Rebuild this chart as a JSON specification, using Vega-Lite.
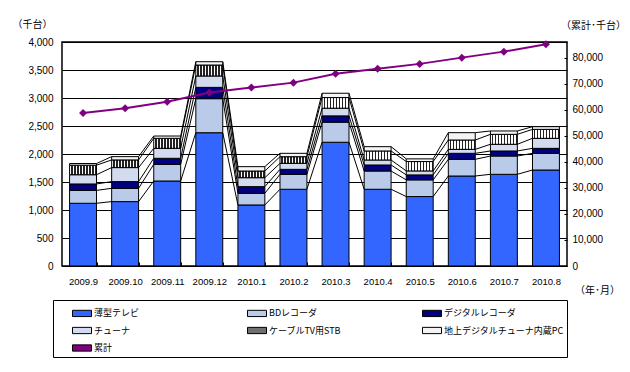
{
  "$schema": "https://vega.github.io/schema/vega-lite/v6.json",
  "width": 505,
  "height": 224,
  "autosize": {"type": "none"},
  "padding": {"left": 62, "top": 42, "right": 63, "bottom": 106},
  "background": "white",
  "config": {
    "font": "Noto Sans CJK JP",
    "view": {"stroke": "black", "strokeWidth": 1.5},
    "axis": {
      "labelFont": "Liberation Sans",
      "labelFontSize": 10,
      "labelColor": "black",
      "titleFont": "Noto Sans CJK JP",
      "titleFontSize": 10,
      "titleFontWeight": "normal",
      "titleColor": "black",
      "domain": false
    }
  },
  "datasets": {
    "bars": [
      {"month": "2009.9", "series": "薄型テレビ", "value": 1120},
      {"month": "2009.9", "series": "BDレコーダ", "value": 230},
      {"month": "2009.9", "series": "デジタルレコーダ", "value": 115},
      {"month": "2009.9", "series": "チューナ", "value": 165},
      {"month": "2009.9", "series": "ケーブルTV用STB", "value": 170},
      {"month": "2009.9", "series": "地上デジタルチューナ内蔵PC", "value": 30},
      {"month": "2009.10", "series": "薄型テレビ", "value": 1150},
      {"month": "2009.10", "series": "BDレコーダ", "value": 237},
      {"month": "2009.10", "series": "デジタルレコーダ", "value": 120},
      {"month": "2009.10", "series": "チューナ", "value": 250},
      {"month": "2009.10", "series": "ケーブルTV用STB", "value": 137},
      {"month": "2009.10", "series": "地上デジタルチューナ内蔵PC", "value": 59},
      {"month": "2009.11", "series": "薄型テレビ", "value": 1518},
      {"month": "2009.11", "series": "BDレコーダ", "value": 297},
      {"month": "2009.11", "series": "デジタルレコーダ", "value": 108},
      {"month": "2009.11", "series": "チューナ", "value": 178},
      {"month": "2009.11", "series": "ケーブルTV用STB", "value": 179},
      {"month": "2009.11", "series": "地上デジタルチューナ内蔵PC", "value": 41},
      {"month": "2009.12", "series": "薄型テレビ", "value": 2380},
      {"month": "2009.12", "series": "BDレコーダ", "value": 608},
      {"month": "2009.12", "series": "デジタルレコーダ", "value": 202},
      {"month": "2009.12", "series": "チューナ", "value": 203},
      {"month": "2009.12", "series": "ケーブルTV用STB", "value": 196},
      {"month": "2009.12", "series": "地上デジタルチューナ内蔵PC", "value": 59},
      {"month": "2010.1", "series": "薄型テレビ", "value": 1090},
      {"month": "2010.1", "series": "BDレコーダ", "value": 208},
      {"month": "2010.1", "series": "デジタルレコーダ", "value": 119},
      {"month": "2010.1", "series": "チューナ", "value": 160},
      {"month": "2010.1", "series": "ケーブルTV用STB", "value": 119},
      {"month": "2010.1", "series": "地上デジタルチューナ内蔵PC", "value": 78},
      {"month": "2010.2", "series": "薄型テレビ", "value": 1370},
      {"month": "2010.2", "series": "BDレコーダ", "value": 267},
      {"month": "2010.2", "series": "デジタルレコーダ", "value": 89},
      {"month": "2010.2", "series": "チューナ", "value": 107},
      {"month": "2010.2", "series": "ケーブルTV用STB", "value": 119},
      {"month": "2010.2", "series": "地上デジタルチューナ内蔵PC", "value": 60},
      {"month": "2010.3", "series": "薄型テレビ", "value": 2210},
      {"month": "2010.3", "series": "BDレコーダ", "value": 358},
      {"month": "2010.3", "series": "デジタルレコーダ", "value": 113},
      {"month": "2010.3", "series": "チューナ", "value": 137},
      {"month": "2010.3", "series": "ケーブルTV用STB", "value": 190},
      {"month": "2010.3", "series": "地上デジタルチューナ内蔵PC", "value": 77},
      {"month": "2010.4", "series": "薄型テレビ", "value": 1370},
      {"month": "2010.4", "series": "BDレコーダ", "value": 326},
      {"month": "2010.4", "series": "デジタルレコーダ", "value": 108},
      {"month": "2010.4", "series": "チューナ", "value": 89},
      {"month": "2010.4", "series": "ケーブルTV用STB", "value": 161},
      {"month": "2010.4", "series": "地上デジタルチューナ内蔵PC", "value": 77},
      {"month": "2010.5", "series": "薄型テレビ", "value": 1240},
      {"month": "2010.5", "series": "BDレコーダ", "value": 298},
      {"month": "2010.5", "series": "デジタルレコーダ", "value": 89},
      {"month": "2010.5", "series": "チューナ", "value": 71},
      {"month": "2010.5", "series": "ケーブルTV用STB", "value": 167},
      {"month": "2010.5", "series": "地上デジタルチューナ内蔵PC", "value": 48},
      {"month": "2010.6", "series": "薄型テレビ", "value": 1607},
      {"month": "2010.6", "series": "BDレコーダ", "value": 298},
      {"month": "2010.6", "series": "デジタルレコーダ", "value": 107},
      {"month": "2010.6", "series": "チューナ", "value": 71},
      {"month": "2010.6", "series": "ケーブルTV用STB", "value": 167},
      {"month": "2010.6", "series": "地上デジタルチューナ内蔵PC", "value": 131},
      {"month": "2010.7", "series": "薄型テレビ", "value": 1637},
      {"month": "2010.7", "series": "BDレコーダ", "value": 327},
      {"month": "2010.7", "series": "デジタルレコーダ", "value": 90},
      {"month": "2010.7", "series": "チューナ", "value": 119},
      {"month": "2010.7", "series": "ケーブルTV用STB", "value": 178},
      {"month": "2010.7", "series": "地上デジタルチューナ内蔵PC", "value": 60},
      {"month": "2010.8", "series": "薄型テレビ", "value": 1714},
      {"month": "2010.8", "series": "BDレコーダ", "value": 298},
      {"month": "2010.8", "series": "デジタルレコーダ", "value": 89},
      {"month": "2010.8", "series": "チューナ", "value": 179},
      {"month": "2010.8", "series": "ケーブルTV用STB", "value": 160},
      {"month": "2010.8", "series": "地上デジタルチューナ内蔵PC", "value": 48}
    ],
    "cum": [
      {"month": "2009.9", "series": "累計", "total": 58700},
      {"month": "2009.10", "series": "累計", "total": 60600},
      {"month": "2009.11", "series": "累計", "total": 63100},
      {"month": "2009.12", "series": "累計", "total": 66600},
      {"month": "2010.1", "series": "累計", "total": 68500},
      {"month": "2010.2", "series": "累計", "total": 70400},
      {"month": "2010.3", "series": "累計", "total": 73800},
      {"month": "2010.4", "series": "累計", "total": 75700},
      {"month": "2010.5", "series": "累計", "total": 77600},
      {"month": "2010.6", "series": "累計", "total": 80000},
      {"month": "2010.7", "series": "累計", "total": 82300},
      {"month": "2010.8", "series": "累計", "total": 85100}
    ]
  },
  "layer": [
    {
      "data": {"name": "bars"},
      "transform": [{"stack": "value", "groupby": ["month"], "as": ["y0", "y1"]}],
      "mark": {"type": "bar", "stroke": "black", "strokeWidth": 1},
      "encoding": {
        "x": {
          "field": "month",
          "type": "nominal",
          "scale": {
            "domain": ["2009.9", "2009.10", "2009.11", "2009.12", "2010.1", "2010.2", "2010.3", "2010.4", "2010.5", "2010.6", "2010.7", "2010.8"],
            "paddingInner": 0.36,
            "paddingOuter": 0.18
          },
          "axis": {
            "title": "（年･月）",
            "titleX": 535,
            "titleY": 24,
            "titleAlign": "center",
            "titleBaseline": "middle",
            "labelAngle": 0,
            "labelFontSize": 9.5,
            "labelPadding": 14,
            "ticks": true,
            "tickBand": "extent",
            "tickSize": -4,
            "tickColor": "black",
            "grid": false
          }
        },
        "y": {
          "field": "y0",
          "type": "quantitative",
          "scale": {"domain": [0, 4000], "nice": false},
          "axis": {
            "title": "（千台）",
            "titleAngle": 0,
            "titleX": -30,
            "titleY": -18,
            "titleAlign": "center",
            "titleBaseline": "middle",
            "values": [0, 500, 1000, 1500, 2000, 2500, 3000, 3500, 4000],
            "format": ",d",
            "grid": true,
            "gridColor": "black",
            "gridWidth": 1.2,
            "gridOpacity": 1,
            "ticks": false,
            "labelPadding": 9
          }
        },
        "y2": {"field": "y1"},
        "color": {
          "field": "series",
          "type": "nominal",
          "scale": {
            "domain": ["薄型テレビ", "BDレコーダ", "デジタルレコーダ", "チューナ", "ケーブルTV用STB", "地上デジタルチューナ内蔵PC", "累計"],
            "range": ["#3366ff", "#b9cbe8", "#000080", "#d3dcef", "#6f6f6f", "#f4f4f4", "#800080"]
          },
          "condition": {
            "test": "datum.series === 'ケーブルTV用STB'",
            "value": {
              "gradient": "linear", "x1": 0, "y1": 0, "x2": 1, "y2": 0,
              "stops": [
                {"offset": 0, "color": "white"}, {"offset": 0.056, "color": "white"}, {"offset": 0.056, "color": "#222"}, {"offset": 0.111, "color": "#222"},
                {"offset": 0.111, "color": "white"}, {"offset": 0.167, "color": "white"}, {"offset": 0.167, "color": "#222"}, {"offset": 0.222, "color": "#222"},
                {"offset": 0.222, "color": "white"}, {"offset": 0.278, "color": "white"}, {"offset": 0.278, "color": "#222"}, {"offset": 0.333, "color": "#222"},
                {"offset": 0.333, "color": "white"}, {"offset": 0.389, "color": "white"}, {"offset": 0.389, "color": "#222"}, {"offset": 0.444, "color": "#222"},
                {"offset": 0.444, "color": "white"}, {"offset": 0.5, "color": "white"}, {"offset": 0.5, "color": "#222"}, {"offset": 0.556, "color": "#222"},
                {"offset": 0.556, "color": "white"}, {"offset": 0.611, "color": "white"}, {"offset": 0.611, "color": "#222"}, {"offset": 0.667, "color": "#222"},
                {"offset": 0.667, "color": "white"}, {"offset": 0.722, "color": "white"}, {"offset": 0.722, "color": "#222"}, {"offset": 0.778, "color": "#222"},
                {"offset": 0.778, "color": "white"}, {"offset": 0.833, "color": "white"}, {"offset": 0.833, "color": "#222"}, {"offset": 0.889, "color": "#222"},
                {"offset": 0.889, "color": "white"}, {"offset": 0.944, "color": "white"}, {"offset": 0.944, "color": "#222"}, {"offset": 1, "color": "#222"}
              ]
            }
          },
          "legend": {
            "title": null,
            "orient": "none",
            "direction": "horizontal",
            "legendX": -9,
            "legendY": 258,
            "columns": 3,
            "gridAlign": "all",
            "columnPadding": 17,
            "rowPadding": 1.5,
            "padding": 3,
            "strokeColor": "black",
            "symbolType": "M-1,-0.33L1,-0.33L1,0.33L-1,0.33Z",
            "symbolSize": 361,
            "symbolOffset": 16,
            "symbolStrokeColor": "black",
            "symbolStrokeWidth": 1,
            "symbolOpacity": 1,
            "labelOffset": 2,
            "labelFont": "Noto Sans CJK JP",
            "labelFontSize": 9,
            "labelColor": "black",
            "labelExpr": "datum.label + '　'"
          }
        }
      }
    },
    {
      "data": {"name": "bars"},
      "transform": [
        {"stack": "value", "groupby": ["month"], "as": ["y0", "y1"]},
        {"window": [{"op": "lead", "field": "y1", "as": "ny"}, {"op": "lead", "field": "month", "as": "nm"}], "groupby": ["series"]},
        {"filter": "datum.nm != null"}
      ],
      "mark": {"type": "rule", "color": "black", "strokeWidth": 1},
      "encoding": {
        "x": {"field": "month", "type": "nominal", "bandPosition": 1},
        "x2": {"field": "nm", "bandPosition": 0},
        "y": {"field": "y1", "type": "quantitative", "scale": {"domain": [0, 4000], "nice": false}, "axis": null},
        "y2": {"field": "ny"}
      }
    },
    {
      "data": {"name": "cum"},
      "mark": {"type": "line", "color": "#800080", "strokeWidth": 2, "point": {"shape": "diamond", "size": 64, "filled": true, "color": "#800080"}},
      "encoding": {
        "x": {"field": "month", "type": "nominal"},
        "y": {
          "field": "total",
          "type": "quantitative",
          "scale": {"domain": [0, 86000], "nice": false},
          "axis": {
            "orient": "right",
            "title": "（累計･千台）",
            "titleAngle": 0,
            "titleX": 26,
            "titleY": -17,
            "titleAlign": "center",
            "titleBaseline": "middle",
            "values": [0, 10000, 20000, 30000, 40000, 50000, 60000, 70000, 80000],
            "format": ",d",
            "grid": false,
            "ticks": true,
            "tickSize": -3,
            "tickColor": "black",
            "labelPadding": 8
          }
        }
      }
    }
  ],
  "resolve": {"scale": {"y": "independent"}}
}
